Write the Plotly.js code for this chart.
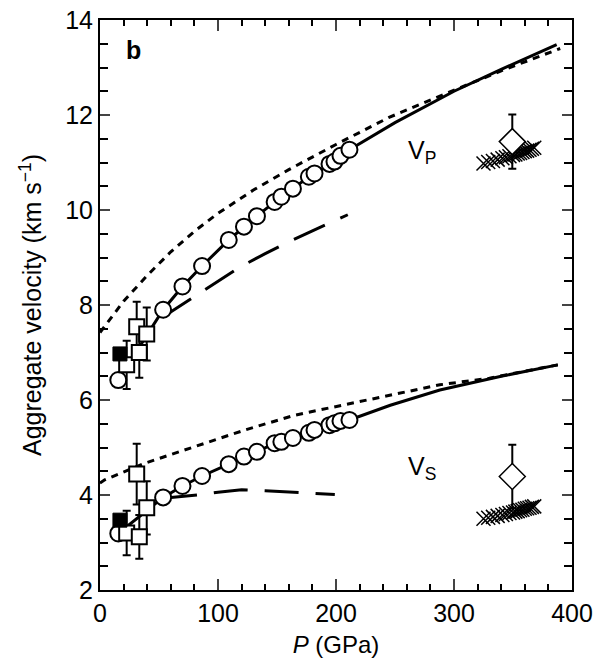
<!DOCTYPE html>
<html>
<head>
<meta charset="utf-8">
<script src="https://cdn.plot.ly/plotly-3.0.1.min.js"></script>
<style>html,body{margin:0;padding:0;background:#fff;}#chart{width:600px;height:665px;}</style>
</head>
<body>
<div id="chart"></div>
<script>
// Circles (aggregate velocities)
const circleP  = [15.5, 53.5, 69.9, 86.5, 109.1, 122, 133, 148, 153.7, 163.5, 177, 181.8, 194.5, 198.7, 203.8, 211.4];
const circleVp = [6.42, 7.90, 8.39, 8.82, 9.37, 9.65, 9.87, 10.17, 10.28, 10.45, 10.70, 10.77, 10.97, 11.02, 11.14, 11.27];
const circleVs = [3.19, 3.95, 4.19, 4.40, 4.65, 4.81, 4.91, 5.09, 5.12, 5.20, 5.31, 5.37, 5.47, 5.51, 5.56, 5.58];

// Solid-line extension beyond the circles
const extP  = [250, 300, 340, 387];
const extVp = [11.84, 12.50, 12.96, 13.48];
const extVsP = [246, 288, 340, 388];
const extVs = [5.89, 6.21, 6.50, 6.74];

// Short-dashed curves
const dotVpP = [0, 20, 40, 60, 80, 100, 130, 160, 200, 245, 296, 340, 390];
const dotVp  = [7.42, 8.08, 8.62, 9.12, 9.55, 9.93, 10.42, 10.85, 11.38, 11.95, 12.48, 12.93, 13.40];
const dotVsP = [0, 4, 38, 80, 123, 165, 205, 246, 288, 330, 388];
const dotVs  = [4.25, 4.32, 4.67, 5.02, 5.37, 5.68, 5.89, 6.11, 6.32, 6.46, 6.74];

// Long-dashed curves
const longVpP = [53, 80, 100, 120, 140, 160, 180, 196, 210];
const longVp  = [7.74, 8.17, 8.50, 8.82, 9.08, 9.33, 9.56, 9.74, 9.90];
const longVsP = [53.5, 70, 86, 100, 120, 140, 160, 180, 199];
const longVs  = [3.93, 3.97, 4.01, 4.06, 4.11, 4.09, 4.06, 4.03, 4.01];

// Open squares with error bars
const sqP   = [22.6, 31.1, 33.3, 39.6];
const sqVp  = [6.74, 7.54, 7.00, 7.39];
const sqVpErr = [0.51, 0.53, 0.53, 0.56];
const sqVs  = [3.20, 4.44, 3.12, 3.73];
const sqVsErr = [0.47, 0.64, 0.46, 0.56];

// Filled squares
const fillP = [16.9];
const fillVp = [6.97];
const fillVs = [3.47];

// Diamonds with error bars
const diaP = [349.4];
const diaVp = [11.44];
const diaVpErr = [0.57];
const diaVs = [4.39];
const diaVsErr = [0.67];

// Crosses
const crossP  = [325, 329, 333, 337, 341, 344, 347, 350, 352, 354, 356, 358, 360, 362, 364, 366, 368];
const crossVp = [10.98, 11.01, 11.03, 11.06, 11.09, 11.11, 11.13, 11.16, 11.17, 11.19, 11.20, 11.22, 11.24, 11.25, 11.27, 11.29, 11.31];
const crossVs = [3.50, 3.52, 3.54, 3.56, 3.58, 3.60, 3.62, 3.63, 3.65, 3.66, 3.68, 3.69, 3.71, 3.72, 3.73, 3.75, 3.76];

const FONT = 'Liberation Sans, Arial, Helvetica, sans-serif';
const traces = [];
function line(x, y, dash) {
  traces.push({x: x, y: y, mode: 'lines', line: {color: 'black', width: 3, dash: dash}, hoverinfo: 'skip'});
}
line(dotVpP, dotVp, '7px,6px');
line(dotVsP, dotVs, '7px,6px');
line(longVpP, longVp, '34px,17px');
line(longVsP, longVs, '34px,17px');
line(circleP.concat(extP), circleVp.concat(extVp), 'solid');
line(circleP.concat(extVsP), circleVs.concat(extVs), 'solid');

[circleVp, circleVs].forEach(v => traces.push({
  x: circleP, y: v, mode: 'markers',
  marker: {symbol: 'circle', size: 16, color: 'white', line: {color: 'black', width: 2}}
}));
[[sqVp, sqVpErr], [sqVs, sqVsErr]].forEach(p => traces.push({
  x: sqP, y: p[0], mode: 'markers',
  error_y: {type: 'data', array: p[1], visible: true, color: 'black', thickness: 2, width: 4},
  marker: {symbol: 'square', size: 15, color: 'white', line: {color: 'black', width: 2}}
}));
[fillVp, fillVs].forEach(v => traces.push({
  x: fillP, y: v, mode: 'markers',
  marker: {symbol: 'square', size: 14, color: 'black', line: {color: 'black', width: 1}}
}));
[crossVp, crossVs].forEach(v => traces.push({
  x: crossP, y: v, mode: 'markers',
  marker: {symbol: 'x-thin-open', size: 14, color: 'black', line: {color: 'black', width: 1.5}}
}));
[[diaVp, diaVpErr], [diaVs, diaVsErr]].forEach(p => traces.push({
  x: diaP, y: p[0], mode: 'markers',
  error_y: {type: 'data', array: p[1], visible: true, color: 'black', thickness: 2, width: 4},
  marker: {symbol: 'diamond', size: 20, color: 'white', line: {color: 'black', width: 1.5}}
}));
// invisible trace to anchor the mirrored top/right axes
traces.push({x: [0], y: [2], xaxis: 'x2', yaxis: 'y2', mode: 'markers', marker: {opacity: 0}, hoverinfo: 'skip'});

const xRange = [0, 400], yRange = [2, 14];
const xMinor = {dtick: 20, ticks: 'inside', ticklen: 6, tickwidth: 2, tickcolor: 'black', showgrid: false};
const yMinor = {dtick: 0.5, ticks: 'inside', ticklen: 8, tickwidth: 2, tickcolor: 'black', showgrid: false};

const layout = {
  width: 600, height: 665,
  margin: {l: 100, r: 28, t: 20, b: 75},
  showlegend: false,
  paper_bgcolor: 'white', plot_bgcolor: 'white',
  font: {family: FONT, color: 'black', size: 25},
  xaxis: {
    range: xRange, dtick: 100, ticks: 'inside', ticklen: 11, tickwidth: 2,
    showline: true, linewidth: 2, linecolor: 'black',
    showgrid: false, zeroline: false,
    tickfont: {size: 25, family: FONT},
    minor: xMinor,
    title: {text: '<i>P</i> (GPa)', font: {size: 24, family: FONT}, standoff: 10}
  },
  yaxis: {
    range: yRange, dtick: 2, ticks: 'inside', ticklen: 10, tickwidth: 2,
    showline: true, linewidth: 2, linecolor: 'black',
    showgrid: false, zeroline: false,
    tickfont: {size: 25, family: FONT},
    minor: yMinor,
    title: {text: 'Aggregate velocity (km s<sup>−1</sup>)', font: {size: 25, family: FONT}, standoff: 16}
  },
  xaxis2: {
    overlaying: 'x', side: 'top', anchor: 'y2', range: xRange, dtick: 100,
    ticks: 'inside', ticklen: 11, tickwidth: 2, showticklabels: false,
    showline: true, linewidth: 2, linecolor: 'black', showgrid: false, zeroline: false,
    minor: xMinor
  },
  yaxis2: {
    overlaying: 'y', side: 'right', anchor: 'x2', range: yRange, dtick: 2,
    ticks: 'inside', ticklen: 10, tickwidth: 2, showticklabels: false,
    showline: true, linewidth: 2, linecolor: 'black', showgrid: false, zeroline: false,
    minor: yMinor
  },
  annotations: [
    {x: 28, y: 13.37, xref: 'x', yref: 'y', text: '<b>b</b>', showarrow: false, font: {size: 25, family: FONT}},
    {x: 273, y: 11.22, xref: 'x', yref: 'y', text: 'V<sub>P</sub>', showarrow: false, font: {size: 25, family: FONT}},
    {x: 273, y: 4.57, xref: 'x', yref: 'y', text: 'V<sub>S</sub>', showarrow: false, font: {size: 25, family: FONT}}
  ]
};
Plotly.newPlot('chart', traces, layout, {displayModeBar: false, staticPlot: true});
</script>
</body>
</html>
